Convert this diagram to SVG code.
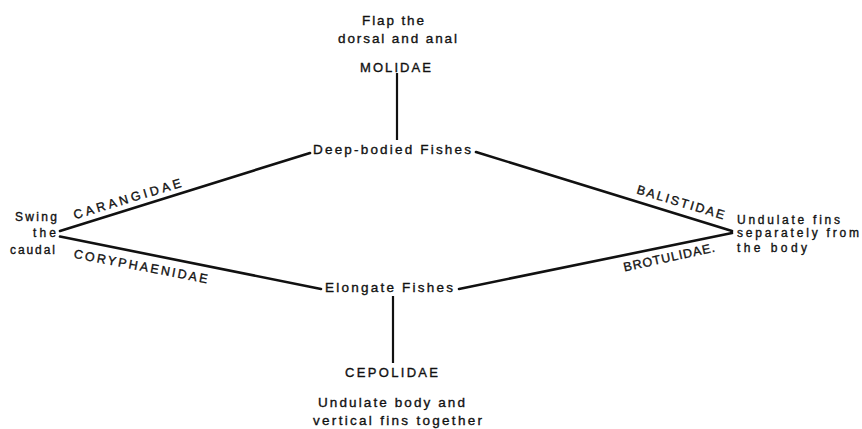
<svg xmlns="http://www.w3.org/2000/svg" width="862" height="429" viewBox="0 0 862 429">
<style>
text { font-family: "Liberation Sans", Arial, sans-serif; fill: #111; stroke: #111; stroke-width: 0.35px; }
.lc { font-size: 13.5px; }
.sm { font-size: 12px; }
.cap { font-size: 13px; }
.rot { font-size: 12.5px; }
.ln { stroke: #111; stroke-width: 2.6; fill: none; stroke-linecap: round; }
.vl { stroke: #111; stroke-width: 2.2; fill: none; }
</style>
<rect width="862" height="429" fill="#fff"/>
<g id="connectors">
<line class="vl" x1="397" y1="73" x2="397" y2="140"/>
<line class="vl" x1="393" y1="296" x2="393" y2="363"/>
<line class="ln" x1="60" y1="231" x2="310" y2="153"/>
<line class="ln" x1="60" y1="236.5" x2="321" y2="289"/>
<line class="ln" x1="476" y1="152" x2="732" y2="231"/>
<line class="ln" x1="459" y1="289" x2="732" y2="233"/>
</g>
<g id="molidae">
<text class="lc" x="393" y="25" text-anchor="middle" textLength="62" lengthAdjust="spacing">Flap the</text>
<text class="lc" x="397.5" y="43" text-anchor="middle" textLength="119" lengthAdjust="spacing">dorsal and anal</text>
<text class="cap" x="395.5" y="72" text-anchor="middle" textLength="71" lengthAdjust="spacing">MOLIDAE</text>
</g>
<g id="deep-bodied">
<text class="lc" x="392" y="154" text-anchor="middle" textLength="158" lengthAdjust="spacing">Deep-bodied Fishes</text>
</g>
<g id="elongate">
<text class="lc" x="389" y="292" text-anchor="middle" textLength="128" lengthAdjust="spacing">Elongate Fishes</text>
</g>
<g id="cepolidae">
<text class="cap" x="391.5" y="377" text-anchor="middle" textLength="93" lengthAdjust="spacing">CEPOLIDAE</text>
<text class="lc" x="391.5" y="407" text-anchor="middle" textLength="147" lengthAdjust="spacing">Undulate body and</text>
<text class="lc" x="397.5" y="425" text-anchor="middle" textLength="169" lengthAdjust="spacing">vertical fins together</text>
</g>
<g id="swing">
<text class="sm" x="57" y="221" text-anchor="end" textLength="42" lengthAdjust="spacing">Swing</text>
<text class="sm" x="56" y="236.5" text-anchor="end" textLength="23" lengthAdjust="spacing">the</text>
<text class="sm" x="55" y="254" text-anchor="end" textLength="45" lengthAdjust="spacing">caudal</text>
</g>
<g id="undulate-fins">
<text class="sm" x="737" y="224" textLength="103" lengthAdjust="spacing">Undulate fins</text>
<text class="sm" x="737" y="237" textLength="122" lengthAdjust="spacing">separately from</text>
<text class="sm" x="737" y="251.5" textLength="70" lengthAdjust="spacing">the body</text>
</g>
<g id="family-labels">
<text class="rot" x="128.5" y="203" text-anchor="middle" textLength="112" lengthAdjust="spacing" transform="rotate(-16.8 128.5 203)">CARANGIDAE</text>
<text class="rot" x="140" y="270.5" text-anchor="middle" textLength="136" lengthAdjust="spacing" transform="rotate(10.8 140 270.5)">CORYPHAENIDAE</text>
<text class="rot" x="679.5" y="206.3" text-anchor="middle" textLength="91" lengthAdjust="spacing" transform="rotate(16.6 679.5 206.3)">BALISTIDAE</text>
<text class="rot" x="670" y="261.5" text-anchor="middle" textLength="93" lengthAdjust="spacing" transform="rotate(-12.5 670 261.5)">BROTULIDAE.</text>
</g>
</svg>
